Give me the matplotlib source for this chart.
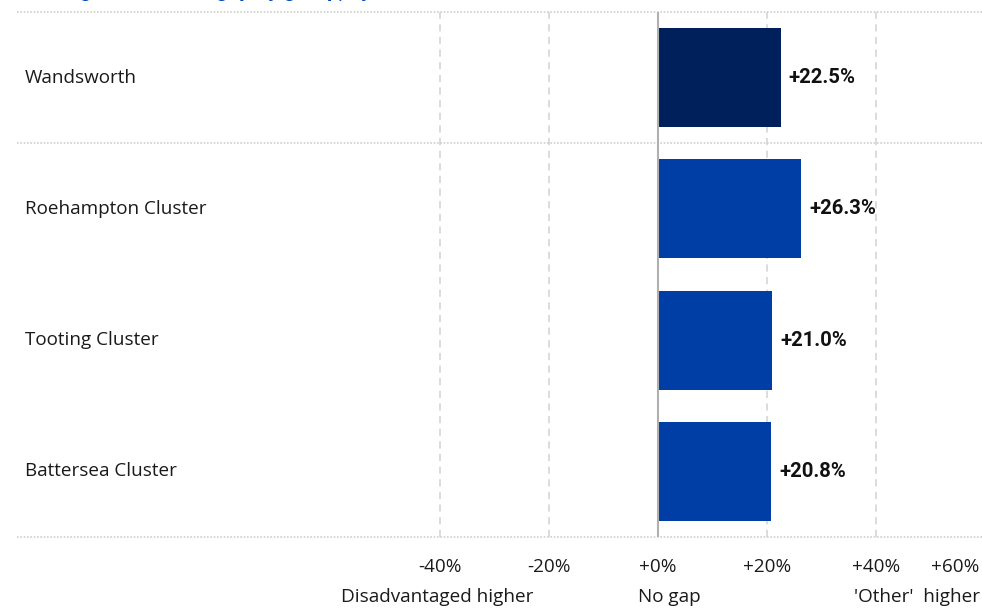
import matplotlib
matplotlib.use("Agg")
import matplotlib.pyplot as plt

categories = ["Wandsworth", "Roehampton Cluster", "Tooting Cluster", "Battersea Cluster"]
gap_values = [22.5, 26.3, 21.0, 20.8]
tick_values = [-40, -20, 0, 20, 40, 60]
tick_labels = ["-40%", "-20%", "+0%", "+20%", "+40%", "+60%"]
title_text = "Average attainment gap by group, by cluster"

plt.rcParams['font.family'] = ['Open Sans', 'DejaVu Sans']
BOLD_FAMILY = ['Roboto', 'DejaVu Sans']
FS = 13.6

W, H = 982, 609
fig = plt.figure(figsize=(W / 100, H / 100), dpi=100)
left_px, right_px, top_px, bot_px = 17, 982, 12, 537
ax = fig.add_axes([left_px / W, 1 - bot_px / H, (right_px - left_px) / W, (bot_px - top_px) / H])

x0_px = 658
px_per_pct = 5.45
xmin = (left_px - x0_px) / px_per_pct
xmax = (right_px - x0_px) / px_per_pct
ax.set_xlim(xmin, xmax)
ax.set_ylim(len(categories) - 0.5, -0.5)

for s in ax.spines.values():
    s.set_visible(False)
ax.set_xticks([])
ax.set_yticks([])

# vertical grid
for t in tick_values:
    if t == 0:
        continue
    ax.axvline(t, color="#d9d9d9", lw=1.3, ls=(0, (4, 3)), zorder=0)
ax.axvline(0, color="#b0b0b0", lw=1.5, zorder=3)

# horizontal separators
for yv in [-0.5, 0.5, len(categories) - 0.5]:
    ax.axhline(yv, color="#cfcfcf", lw=1.2, ls=(0, (1, 1)), zorder=0, clip_on=False)

colors = ["#00205B"] + ["#003DA5"] * (len(categories) - 1)
ypos = list(range(len(categories)))
ax.barh(ypos, gap_values, height=0.755, color=colors, zorder=2)

for y, v in zip(ypos, gap_values):
    ax.text(v + 1.5, y, f"+{v:.1f}%", ha="left", va="center", fontsize=14.6,
            fontweight="bold", family=BOLD_FAMILY, color="#111111")

for y, c in zip(ypos, categories):
    ax.annotate(c, xy=(0, y), xycoords=("axes fraction", "data"),
                xytext=(25 - left_px, 0), textcoords="offset pixels",
                ha="left", va="center", fontsize=FS, color="#1a1a1a")

# tick labels
xtr = ax.get_xaxis_transform()
ytick = 1 - (567 - top_px) / (bot_px - top_px)
for t, lab in zip(tick_values, tick_labels):
    if t > xmax - 3:
        ax.text(xmax - 0.4, ytick, lab, transform=xtr,
                ha="right", va="center", fontsize=FS, color="#1a1a1a")
    else:
        ax.text(t, ytick, lab, transform=xtr,
                ha="center", va="center", fontsize=FS, color="#1a1a1a")

ylab = 1 - (597 - top_px) / (bot_px - top_px)
ax.text(-40.5, ylab, "Disadvantaged higher", transform=xtr,
        ha="center", va="center", fontsize=FS, color="#1a1a1a")
ax.text(-3.7, ylab, "No gap", transform=xtr,
        ha="left", va="center", fontsize=FS, color="#1a1a1a")
ax.text(xmax - 0.4, ylab, "'Other'  higher", transform=xtr,
        ha="right", va="center", fontsize=FS, color="#1a1a1a")

fig.text(25 / W, 1 + 3 / H, title_text, ha="left", va="baseline", fontsize=15,
         fontweight="bold", family=BOLD_FAMILY, color="#0047BB")

fig.savefig("out.png", dpi=100)
